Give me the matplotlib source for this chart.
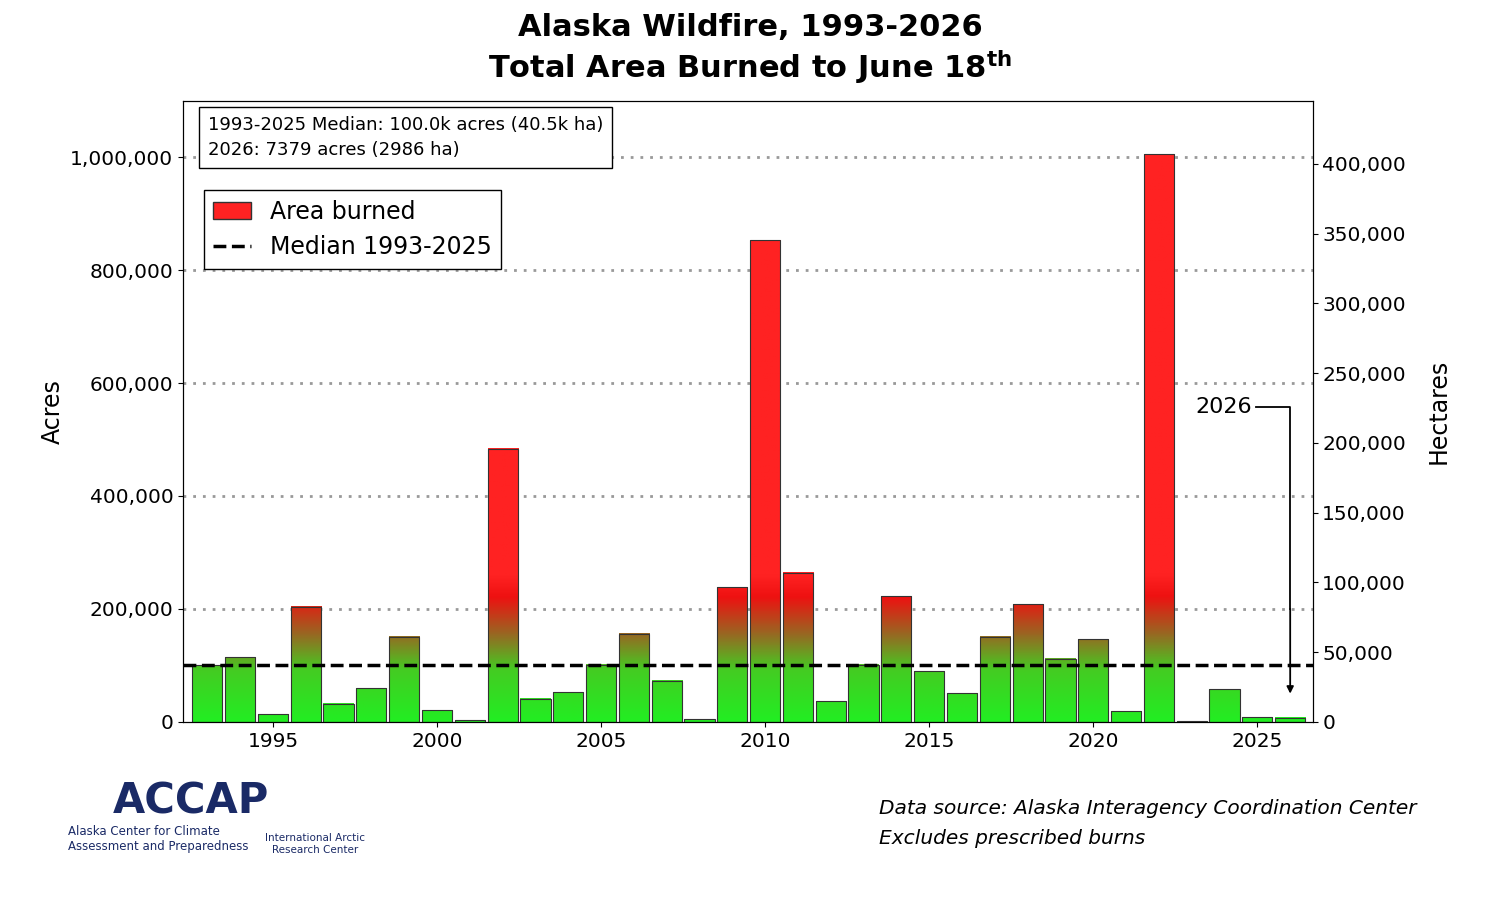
import matplotlib
matplotlib.use("Agg")
import matplotlib.pyplot as plt
import numpy as np
from matplotlib.colors import LinearSegmentedColormap
from matplotlib.patches import Rectangle
from matplotlib.lines import Line2D
from matplotlib.ticker import FuncFormatter

years = list(range(1993, 2027))
acres = [100000, 115000, 14000, 204000, 32000, 60000, 151000, 21000, 3000, 484000,
         41000, 53000, 101000, 156000, 73000, 5000, 238000, 853000, 264000, 37000,
         101000, 222000, 90000, 51000, 151000, 209000, 112000, 147000, 19000, 1005000,
         1000, 58000, 8000, 7379]
median = 100000
ACRE_TO_HA = 0.404686

fig = plt.figure(figsize=(15, 9), dpi=100)
ax = fig.add_axes([0.122, 0.198, 0.753, 0.69])
xmin, xmax = 1992.26, 2026.68
ymax = 1100000

cmap = LinearSegmentedColormap.from_list("gr", [(0, "#22ee22"), (0.35, "#44cc22"), (0.6, "#996622"), (0.85, "#ee1111"), (1, "#ff2222")])
for y, v in zip(years, acres):
    vals = np.linspace(0, v, 200).reshape(-1, 1)
    c = np.clip(vals / 260000, 0, 1)
    ax.imshow(c, cmap=cmap, vmin=0, vmax=1, origin="lower", aspect="auto",
              extent=(y - 0.46, y + 0.46, 0, v), zorder=2)
    ax.add_patch(Rectangle((y - 0.46, 0), 0.92, v, fill=False, ec="#333333", lw=0.8, zorder=3))
ax.set_xlim(xmin, xmax)
ax.set_ylim(0, ymax)

for g in [200000, 400000, 600000, 800000, 1000000]:
    ax.axhline(g, color="#999999", ls=(0, (1, 2.5)), lw=2, zorder=1)
ax.axhline(median, color="black", ls="--", lw=2.5, zorder=4)

ax.set_xticks([1995, 2000, 2005, 2010, 2015, 2020, 2025])
ax.yaxis.set_major_formatter(FuncFormatter(lambda v, p: f"{int(v):,}"))
ax.set_yticks(range(0, 1000001, 200000))
ax.tick_params(labelsize=14.5)
ax.set_ylabel("Acres", fontsize=17)

ax2 = ax.twinx()
ax2.set_ylim(0, ymax * ACRE_TO_HA)
ax2.set_yticks(range(0, 400001, 50000))
ax2.yaxis.set_major_formatter(FuncFormatter(lambda v, p: f"{int(v):,}"))
ax2.tick_params(labelsize=14.5)
ax2.set_ylabel("Hectares", fontsize=17, labelpad=15)

fig.suptitle("Alaska Wildfire, 1993-2026\nTotal Area Burned to June 18$^{\\mathbf{th}}$",
             fontsize=22, fontweight="bold", y=0.985, x=0.50)

ax.text(0.022, 0.975, "1993-2025 Median: 100.0k acres (40.5k ha)\n2026: 7379 acres (2986 ha)",
        transform=ax.transAxes, va="top", fontsize=13, linespacing=1.5,
        bbox=dict(boxstyle="square,pad=0.5", fc="white", ec="black"), zorder=6)

handles = [Rectangle((0, 0), 1, 1, fc="#ff2222", ec="#333333"),
           Line2D([], [], color="black", ls="--", lw=2.5)]
leg = ax.legend(handles, ["Area burned", "Median 1993-2025"], loc="upper left",
                bbox_to_anchor=(0.008, 0.875), fontsize=17, fancybox=False,
                edgecolor="black", framealpha=1, handlelength=1.6)
leg.set_zorder(6)

ax.text(2024.85, 558000, "2026", fontsize=16, ha="right", va="center", zorder=6,
        bbox=dict(fc="white", ec="none", pad=2))
ax.plot([2024.95, 2026.0, 2026.0], [558000, 558000, 200000], color="black", lw=1.3, zorder=6)
ax.annotate("", xy=(2026.0, 45000), xytext=(2026.0, 205000),
            arrowprops=dict(arrowstyle="-|>", color="black", lw=1.3), zorder=6)

fig.text(0.586, 0.085, "Data source: Alaska Interagency Coordination Center\nExcludes prescribed burns",
         fontsize=14.5, style="italic", va="center", linespacing=1.7)
fig.text(0.075, 0.11, "ACCAP", fontsize=30, fontweight="bold", color="#1a2a66", va="center")
fig.text(0.045, 0.068, "Alaska Center for Climate\nAssessment and Preparedness", fontsize=8.5,
         color="#1a2a66", va="center")
fig.text(0.21, 0.062, "International Arctic\nResearch Center", fontsize=7.5, color="#1a2a66",
         va="center", ha="center")

fig.savefig("out.png", dpi=100)
